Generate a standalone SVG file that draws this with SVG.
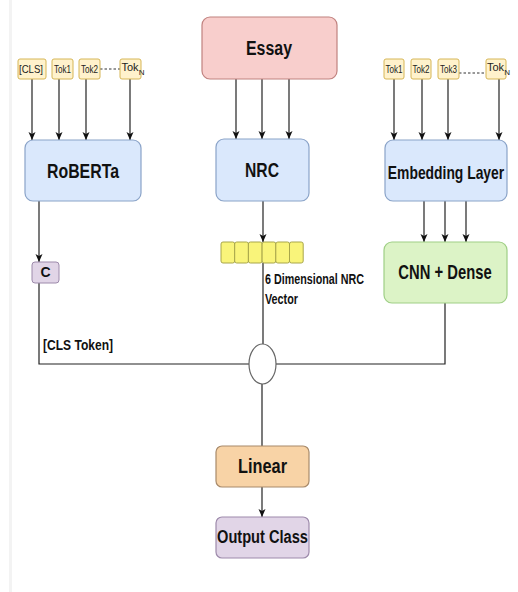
<svg xmlns="http://www.w3.org/2000/svg" width="518" height="592" viewBox="0 0 518 592">
<defs>
<marker id="arr" markerUnits="userSpaceOnUse" markerWidth="8" markerHeight="8" refX="8" refY="3.5" orient="auto">
<path d="M0,0 L8,3.5 L0,7 L2,3.5 z" fill="#111"/>
</marker>
<style>
.tok{fill:#fff2cc;stroke:#d6b656;stroke-width:1}
.blue{fill:#dae8fc;stroke:#8aa3c8;stroke-width:1.2}
.t{font-family:"Liberation Sans",Arial,sans-serif;font-weight:bold;fill:#111}
.tt{font-family:"Liberation Sans",Arial,sans-serif;fill:#222;font-size:11px}
.ln{stroke:#222;stroke-width:1.2;fill:none}
.ar{stroke:#222;stroke-width:1.2;fill:none;marker-end:url(#arr)}
.dash{stroke:#333;stroke-width:1;stroke-dasharray:2.5 2}
.cell{fill:#f9f47a;stroke:#a8a64a;stroke-width:1}
</style>
</defs>
<rect x="0" y="0" width="518" height="592" fill="#ffffff"/>
<line x1="10.5" y1="0" x2="10.5" y2="592" stroke="#f3f3f3" stroke-width="3"/>

<g id="connectors">
<line class="ar" x1="32" y1="79" x2="32" y2="140"/>
<line class="ar" x1="59" y1="79" x2="59" y2="140"/>
<line class="ar" x1="86" y1="79" x2="86" y2="140"/>
<line class="ar" x1="130" y1="79" x2="130" y2="140"/>
<line class="dash" x1="100" y1="69" x2="120" y2="69"/>
<line class="ar" x1="236" y1="79" x2="236" y2="139"/>
<line class="ar" x1="262" y1="79" x2="262" y2="139"/>
<line class="ar" x1="289" y1="79" x2="289" y2="139"/>
<line class="ar" x1="394" y1="79" x2="394" y2="140"/>
<line class="ar" x1="422" y1="79" x2="422" y2="140"/>
<line class="ar" x1="448" y1="79" x2="448" y2="140"/>
<line class="ar" x1="499" y1="79" x2="499" y2="140"/>
<line class="dash" x1="459" y1="73" x2="486" y2="73"/>
<line class="ar" x1="39" y1="201" x2="39" y2="262"/>
<line class="ar" x1="263" y1="201" x2="263" y2="242"/>
<line class="ar" x1="424" y1="201" x2="424" y2="242"/>
<line class="ar" x1="445" y1="201" x2="445" y2="242"/>
<line class="ar" x1="466" y1="201" x2="466" y2="242"/>
<polyline class="ln" points="39,283 39,364 249,364"/>
<line class="ln" x1="263" y1="263" x2="263" y2="344"/>
<polyline class="ln" points="445,303 445,364 276,364"/>
<line class="ln" x1="262" y1="384" x2="262" y2="446"/>
<line class="ar" x1="262" y1="487" x2="262" y2="517"/>
</g>

<g id="left-tokens">
<rect class="tok" x="18" y="59" width="28" height="20" rx="2"/>
<text class="tt" x="31" y="73" text-anchor="middle" textLength="24" lengthAdjust="spacingAndGlyphs">[CLS]</text>
<rect class="tok" x="52" y="59" width="21" height="20" rx="2"/>
<text class="tt" x="62.5" y="73" text-anchor="middle" textLength="17" lengthAdjust="spacingAndGlyphs">Tok1</text>
<rect class="tok" x="79" y="59" width="21" height="20" rx="2"/>
<text class="tt" x="89.5" y="73" text-anchor="middle" textLength="17" lengthAdjust="spacingAndGlyphs">Tok2</text>
<rect class="tok" x="120" y="59" width="21" height="20" rx="2"/>
<text class="tt" x="121.5" y="71" font-size="9.5">Tok<tspan dy="3.5" font-size="8">N</tspan></text>
</g>

<g id="roberta">
<rect class="blue" x="25" y="140" width="116" height="61" rx="8"/>
<text class="t" x="83" y="178" font-size="20" text-anchor="middle" textLength="72" lengthAdjust="spacingAndGlyphs">RoBERTa</text>
</g>

<g id="essay">
<rect x="202" y="17" width="135" height="62" rx="8" fill="#f8cecc" stroke="#c0827f" stroke-width="1.2"/>
<text class="t" x="269" y="55" font-size="20" text-anchor="middle" textLength="46" lengthAdjust="spacingAndGlyphs">Essay</text>
</g>

<g id="nrc">
<rect class="blue" x="216" y="139" width="93" height="62" rx="8"/>
<text class="t" x="262" y="177" font-size="20" text-anchor="middle" textLength="34" lengthAdjust="spacingAndGlyphs">NRC</text>
</g>

<g id="right-tokens">
<rect class="tok" x="384" y="59" width="20" height="20" rx="2"/>
<text class="tt" x="394" y="73" text-anchor="middle" textLength="17" lengthAdjust="spacingAndGlyphs">Tok1</text>
<rect class="tok" x="411" y="59" width="20" height="20" rx="2"/>
<text class="tt" x="421" y="73" text-anchor="middle" textLength="17" lengthAdjust="spacingAndGlyphs">Tok2</text>
<rect class="tok" x="438" y="59" width="21" height="20" rx="2"/>
<text class="tt" x="448.5" y="73" text-anchor="middle" textLength="17" lengthAdjust="spacingAndGlyphs">Tok3</text>
<rect class="tok" x="486" y="59" width="20" height="20" rx="2"/>
<text class="tt" x="487" y="71" font-size="9.5">Tok<tspan dy="3.5" font-size="8">N</tspan></text>
</g>

<g id="embedding">
<rect class="blue" x="385" y="140" width="122" height="61" rx="8"/>
<text class="t" x="0" y="0" font-size="19" text-anchor="middle" transform="translate(446,179) scale(0.73,1)">Embedding Layer</text>
</g>

<g id="cls-c">
<rect x="32" y="262" width="27" height="21" rx="3" fill="#e1d5e7" stroke="#9d8aab" stroke-width="1"/>
<text class="t" x="45.5" y="277" font-size="14" text-anchor="middle">C</text>
</g>
<g id="cls-label">
<text class="t" x="43" y="350" font-size="15" textLength="70" lengthAdjust="spacingAndGlyphs">[CLS Token]</text>
</g>

<g id="nrc-vector">
<rect class="cell" x="221" y="242" width="13.7" height="21" rx="2"/>
<rect class="cell" x="234.7" y="242" width="13.7" height="21" rx="2"/>
<rect class="cell" x="248.4" y="242" width="13.7" height="21" rx="2"/>
<rect class="cell" x="262.1" y="242" width="13.7" height="21" rx="2"/>
<rect class="cell" x="275.8" y="242" width="13.7" height="21" rx="2"/>
<rect class="cell" x="289.5" y="242" width="13.7" height="21" rx="2"/>
<text class="t" x="265" y="284" font-size="14" textLength="99" lengthAdjust="spacingAndGlyphs">6 Dimensional NRC</text>
<text class="t" x="265" y="304" font-size="14" textLength="33" lengthAdjust="spacingAndGlyphs">Vector</text>
</g>

<g id="cnn">
<rect x="384" y="242" width="123" height="61" rx="8" fill="#dcf3c6" stroke="#9fcf86" stroke-width="1.2"/>
<text class="t" x="0" y="0" font-size="20" text-anchor="middle" transform="translate(445,279) scale(0.74,1)">CNN + Dense</text>
</g>

<g id="concat">
<ellipse cx="262.5" cy="364" rx="13.5" ry="20" fill="#ffffff" stroke="#666" stroke-width="1.2"/>
</g>

<g id="linear">
<rect x="216" y="446" width="93" height="41" rx="6" fill="#f8d3a6" stroke="#a88a6a" stroke-width="1.2"/>
<text class="t" x="262.5" y="473" font-size="20" text-anchor="middle" textLength="49" lengthAdjust="spacingAndGlyphs">Linear</text>
</g>

<g id="output">
<rect x="216" y="517" width="93" height="41" rx="6" fill="#e1d5e7" stroke="#9d8aab" stroke-width="1.2"/>
<text class="t" x="0" y="0" font-size="19" text-anchor="middle" transform="translate(262.5,543) scale(0.77,1)">Output Class</text>
</g>
</svg>
